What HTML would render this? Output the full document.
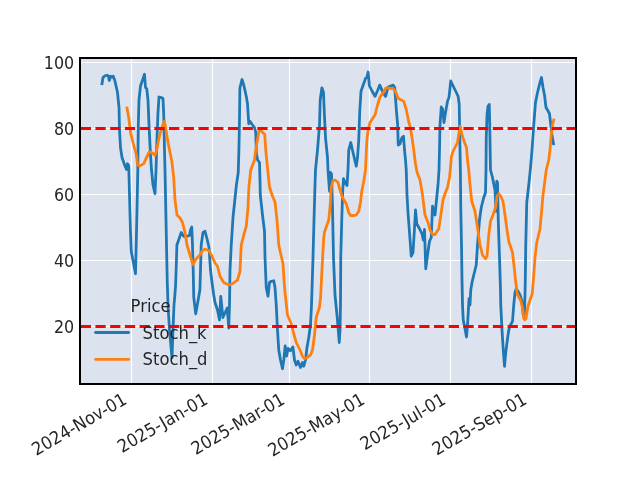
<!DOCTYPE html>
<html lang="en">
<head>
<meta charset="utf-8">
<title>Stochastic Oscillator</title>
<style>
html,body{margin:0;padding:0;background:#fff;}
body{width:640px;height:480px;overflow:hidden;}
svg{display:block;}
svg text{font-family:"DejaVu Sans","Liberation Sans",sans-serif;fill:#262626;}
</style>
</head>
<body>
<svg width="640" height="480" viewBox="0 0 640 480">
<rect x="0" y="0" width="640" height="480" fill="#ffffff"/>
<rect x="80" y="57.6" width="496" height="326.4" fill="#dce3ef"/>
<g stroke="#ffffff" stroke-width="1.2" fill="none">
<line x1="131.5" y1="57.6" x2="131.5" y2="384"/>
<line x1="212.5" y1="57.6" x2="212.5" y2="384"/>
<line x1="289.5" y1="57.6" x2="289.5" y2="384"/>
<line x1="369.5" y1="57.6" x2="369.5" y2="384"/>
<line x1="450.5" y1="57.6" x2="450.5" y2="384"/>
<line x1="531.5" y1="57.6" x2="531.5" y2="384"/>
<line x1="80" y1="62.5" x2="576" y2="62.5"/>
<line x1="80" y1="128.5" x2="576" y2="128.5"/>
<line x1="80" y1="194.5" x2="576" y2="194.5"/>
<line x1="80" y1="260.5" x2="576" y2="260.5"/>
<line x1="80" y1="326.5" x2="576" y2="326.5"/>
</g>
<clipPath id="ax"><rect x="80" y="57.6" width="496" height="326.4"/></clipPath>
<g clip-path="url(#ax)" fill="none" stroke-linejoin="round" stroke-linecap="square">
<polyline stroke="#1f77b4" stroke-width="2.78" points="102.00,83.75 103.00,77.50 105.00,75.75 107.00,75.25 108.50,76.25 109.25,80.50 110.50,76.25 112.00,77.00 113.25,76.25 115.00,81.25 117.50,92.50 119.00,107.50 119.50,130.00 120.50,147.50 122.00,157.50 125.00,166.00 126.50,169.50 127.50,163.75 128.75,166.00 129.50,195.00 130.50,232.50 131.25,251.25 135.50,273.75 136.50,232.50 137.30,195.00 137.80,170.00 138.30,125.00 139.00,100.00 140.50,86.00 144.50,74.25 145.50,87.50 146.75,88.75 148.00,100.00 149.00,125.00 150.50,155.00 151.50,170.00 153.00,185.00 155.00,193.75 156.00,170.00 157.00,137.50 158.00,112.50 159.00,97.00 161.25,97.50 163.00,98.50 163.75,115.00 164.50,150.00 165.00,170.00 165.75,207.50 166.50,245.00 167.20,280.00 168.00,305.00 169.50,330.00 172.00,357.80 173.00,330.00 174.00,305.00 174.90,295.00 175.60,285.00 176.30,265.00 176.90,245.00 181.25,232.50 183.75,236.25 187.00,236.25 189.50,235.50 190.50,230.00 191.75,227.00 192.50,245.00 193.20,270.00 193.75,297.50 195.75,313.75 199.90,290.00 200.50,270.00 201.20,245.00 203.00,232.50 205.00,231.25 207.00,238.75 209.00,247.50 210.50,270.00 212.00,282.50 213.75,295.00 215.00,302.50 217.50,310.00 219.50,320.00 220.75,296.50 222.90,317.50 227.25,308.00 228.75,328.00 229.50,305.00 230.00,270.00 231.25,245.00 233.00,217.50 236.40,185.00 238.25,172.50 238.90,150.00 239.40,125.00 239.90,88.00 242.00,79.50 243.75,85.00 246.25,96.25 247.50,103.75 248.75,123.75 250.00,121.25 252.50,125.00 254.50,127.50 255.75,132.50 256.40,153.75 257.60,160.00 259.50,162.50 260.10,185.00 260.30,195.00 262.50,215.00 264.50,231.25 265.00,257.50 266.25,287.50 268.00,296.25 269.50,282.50 271.25,281.25 273.75,280.75 275.00,287.50 276.25,305.00 277.50,330.00 278.75,350.00 280.50,360.00 282.50,368.75 283.75,360.00 285.20,346.00 286.60,356.00 288.20,348.30 290.40,350.80 292.90,347.00 294.50,360.00 296.25,365.00 298.00,361.25 300.50,367.50 302.50,362.50 303.75,366.25 305.50,360.00 307.00,347.50 308.75,337.50 310.50,325.00 311.50,305.00 312.30,280.00 313.00,257.50 314.00,220.00 315.00,185.00 315.50,170.00 317.50,150.00 319.50,125.00 320.20,100.00 321.90,87.80 323.50,92.50 324.30,112.50 325.50,137.50 327.50,157.50 328.00,170.00 329.50,191.25 330.50,172.50 331.50,173.75 332.50,207.50 333.50,257.50 334.50,282.50 335.00,295.00 337.00,315.00 338.25,330.00 339.25,342.50 340.00,330.00 340.50,305.00 340.75,257.50 341.75,220.00 342.75,190.00 343.50,178.75 345.00,182.50 347.00,185.50 348.00,170.00 348.75,150.00 350.75,142.50 353.00,152.50 356.25,166.25 357.50,157.50 358.75,140.00 359.75,111.25 361.00,91.25 365.60,78.25 366.90,77.25 368.10,72.00 369.40,85.75 371.90,90.75 375.00,96.40 377.50,90.75 379.75,85.10 382.50,91.40 385.60,96.40 388.10,87.00 393.10,85.10 394.75,87.60 395.60,99.50 396.50,112.00 397.60,124.00 398.25,145.00 400.00,143.75 402.00,137.50 403.50,136.25 404.50,150.00 405.50,160.00 406.25,170.00 407.00,195.00 408.00,212.50 409.50,232.50 411.25,256.25 413.00,252.50 414.25,232.50 415.50,210.00 416.75,223.75 419.50,228.75 422.00,233.75 423.25,240.00 424.50,229.50 425.75,268.75 427.50,255.00 429.50,241.25 431.25,237.50 432.50,206.25 435.00,215.00 436.25,202.50 438.00,185.00 439.00,170.00 439.50,150.00 440.00,125.00 441.25,107.00 442.50,108.75 444.00,122.50 445.50,112.50 447.50,101.25 449.00,97.50 450.75,81.00 458.10,96.25 459.20,104.00 460.00,150.00 460.40,170.00 460.75,207.50 461.50,245.00 462.00,280.00 462.50,305.00 463.25,320.00 465.00,328.75 466.50,337.00 467.50,325.00 468.25,312.50 469.00,298.75 470.00,305.00 470.75,290.00 472.00,282.50 473.75,275.00 476.25,265.00 477.50,245.00 479.50,220.00 481.25,207.50 483.75,197.50 485.50,192.50 486.00,170.00 486.25,137.50 487.00,115.00 488.00,106.25 489.25,104.50 489.75,125.00 490.25,157.50 490.50,170.00 492.50,177.50 495.00,190.00 496.00,211.25 496.75,181.25 497.50,182.50 498.25,220.00 499.50,257.50 500.50,290.00 500.75,305.00 502.00,330.00 503.25,350.00 504.50,366.25 505.75,352.50 507.00,342.50 508.75,330.00 510.50,325.00 512.50,321.25 513.75,305.00 515.00,292.50 516.25,288.75 518.00,291.25 520.00,295.00 522.00,301.25 523.25,315.00 524.25,317.50 525.00,295.00 525.30,280.00 525.75,245.00 526.75,202.50 528.75,185.00 530.30,170.00 532.00,150.00 533.75,125.00 535.50,102.50 537.50,92.50 540.00,82.50 541.50,77.50 543.00,87.50 544.50,95.00 546.00,107.50 547.50,110.00 549.50,113.75 550.50,122.50 552.00,135.00 553.50,143.75"/>
<polyline stroke="#ff7f0e" stroke-width="2.78" points="127.00,108.00 128.75,118.00 130.60,133.00 133.10,143.00 136.25,154.25 137.50,164.25 139.40,166.10 143.75,163.60 146.25,158.00 149.40,151.75 152.50,153.00 155.00,155.50 156.90,149.25 158.75,139.25 161.25,129.25 164.40,121.10 165.60,128.00 168.10,143.00 171.90,161.75 173.75,178.00 175.00,200.00 177.00,215.00 180.00,218.00 182.50,222.50 185.00,232.50 187.00,245.00 190.00,255.00 193.00,264.50 196.25,258.75 200.00,255.00 202.50,250.50 205.00,249.25 208.75,250.50 212.00,256.25 215.00,263.00 217.50,266.25 220.00,276.25 223.75,282.50 228.75,285.00 232.50,283.75 237.50,280.00 240.00,271.25 241.25,245.00 243.75,235.00 246.25,226.25 248.00,207.50 248.90,187.00 250.75,170.00 254.50,160.00 255.75,150.00 258.90,131.25 260.75,130.60 264.75,134.40 265.75,150.00 267.60,168.75 269.50,187.00 272.50,196.25 275.00,202.00 277.00,220.00 278.75,245.00 281.25,256.25 283.00,263.75 284.00,280.00 285.00,292.50 287.50,315.00 291.25,323.75 293.75,333.75 296.25,342.50 300.00,350.00 302.50,356.25 304.50,358.75 307.50,357.00 310.50,355.00 312.50,350.00 314.50,335.00 316.25,317.50 319.40,307.50 320.60,297.50 321.50,278.75 322.50,260.00 323.75,237.50 324.50,232.00 328.75,220.00 330.20,205.00 331.25,187.50 333.00,180.50 335.00,180.00 338.00,182.50 340.00,190.00 342.50,197.50 346.25,203.75 348.75,212.50 350.50,215.50 353.75,215.50 356.25,215.00 358.75,211.25 360.50,202.50 361.75,191.25 363.75,181.25 365.50,170.00 366.40,150.00 366.90,140.00 368.10,130.00 370.00,122.50 375.00,115.00 377.50,105.00 380.00,97.00 383.10,92.60 385.60,88.25 388.10,87.90 393.75,88.90 396.25,93.25 398.10,98.25 403.75,101.40 406.25,109.50 408.75,122.00 410.00,126.25 412.00,137.50 413.75,150.00 415.50,164.00 417.00,172.00 420.00,180.00 422.50,195.00 425.00,215.00 428.00,222.50 430.00,230.00 432.50,234.50 435.00,234.50 438.75,228.75 440.50,217.50 443.00,200.00 445.00,193.75 447.50,187.50 449.50,177.50 450.50,168.00 451.25,157.50 452.50,152.50 455.00,147.50 457.50,142.50 459.00,132.50 460.25,126.25 462.00,135.00 464.50,142.50 466.50,147.50 467.50,160.00 468.75,170.00 470.00,185.00 471.75,201.25 475.00,211.25 477.50,227.50 480.00,245.00 482.50,255.00 485.50,258.75 487.00,256.25 488.75,235.00 490.50,221.25 493.00,215.00 495.50,207.50 497.00,196.25 498.75,193.75 500.75,196.25 503.00,201.25 505.00,215.00 507.00,230.00 508.75,241.25 512.50,252.50 514.50,270.00 515.50,280.00 517.25,294.00 521.00,301.25 522.90,310.00 523.75,318.50 524.80,319.80 526.00,318.50 527.90,306.25 532.25,293.75 533.75,275.00 535.00,257.50 536.75,242.50 540.00,228.75 541.25,215.00 543.00,195.00 545.00,180.00 546.25,170.00 548.75,160.00 550.00,150.00 551.25,135.00 552.50,125.00 553.75,120.00"/>
<line x1="80" y1="128.5" x2="576" y2="128.5" stroke="#ff0000" stroke-width="2.9" stroke-dasharray="10.28 4.44" stroke-dashoffset="-0.7" stroke-linecap="butt"/>
<line x1="80" y1="326.5" x2="576" y2="326.5" stroke="#ff0000" stroke-width="2.9" stroke-dasharray="10.28 4.44" stroke-dashoffset="-0.7" stroke-linecap="butt"/>
</g>
<rect x="80" y="58" width="496" height="326" fill="none" stroke="#000000" stroke-width="2"/>
<g opacity="0.999">
<text transform="translate(74.20,68.60) scale(0.955,1.07)" font-size="16.67" text-anchor="end">100</text>
<text transform="translate(74.20,134.60) scale(0.955,1.07)" font-size="16.67" text-anchor="end">80</text>
<text transform="translate(74.20,200.60) scale(0.955,1.07)" font-size="16.67" text-anchor="end">60</text>
<text transform="translate(74.20,266.60) scale(0.955,1.07)" font-size="16.67" text-anchor="end">40</text>
<text transform="translate(74.20,332.60) scale(0.955,1.07)" font-size="16.67" text-anchor="end">20</text>
<text transform="translate(128.10,403.00) rotate(-30) scale(0.985,1.07)" font-size="16.67" text-anchor="end">2024-Nov-01</text>
<text transform="translate(209.10,403.00) rotate(-30) scale(0.985,1.07)" font-size="16.67" text-anchor="end">2025-Jan-01</text>
<text transform="translate(286.10,403.00) rotate(-30) scale(0.985,1.07)" font-size="16.67" text-anchor="end">2025-Mar-01</text>
<text transform="translate(366.10,403.00) rotate(-30) scale(0.985,1.07)" font-size="16.67" text-anchor="end">2025-May-01</text>
<text transform="translate(447.10,403.00) rotate(-30) scale(0.985,1.07)" font-size="16.67" text-anchor="end">2025-Jul-01</text>
<text transform="translate(528.10,403.00) rotate(-30) scale(0.985,1.07)" font-size="16.67" text-anchor="end">2025-Sep-01</text>
<text transform="translate(150.60,311.70) scale(0.985,1.07)" font-size="16.67" text-anchor="middle">Price</text>
<text transform="translate(142.60,338.60) scale(0.985,1.07)" font-size="16.67" text-anchor="start">Stoch_k</text>
<text transform="translate(142.60,364.60) scale(0.985,1.07)" font-size="16.67" text-anchor="start">Stoch_d</text>
</g>
<line x1="95.6" y1="332.5" x2="128.6" y2="332.5" stroke="#1f77b4" stroke-width="2.78" stroke-linecap="round"/>
<line x1="95.6" y1="359.4" x2="128.6" y2="359.4" stroke="#ff7f0e" stroke-width="2.78" stroke-linecap="round"/>
</svg>
</body>
</html>
